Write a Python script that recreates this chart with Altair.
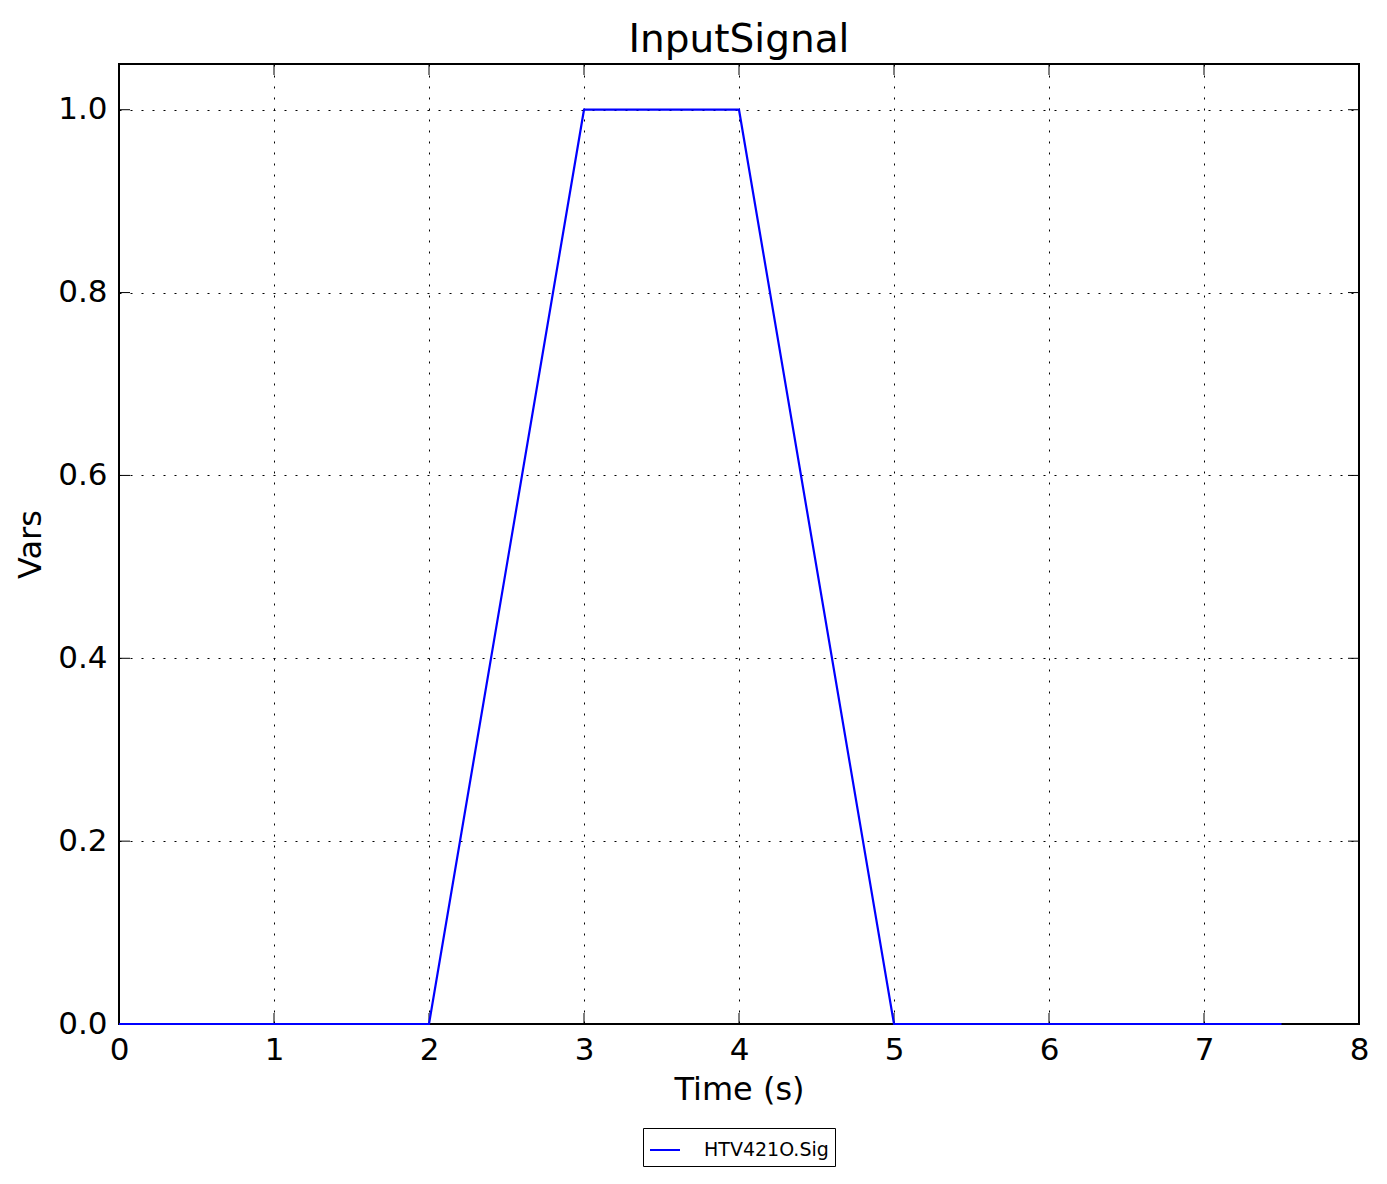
import altair as alt
import pandas as pd

# data
time_s = [0, 2, 3, 4, 5, 7.5]
signal = [0, 0, 1, 1, 0, 0]
series_name = "HTV421O.Sig"
x_ticks = [0, 1, 2, 3, 4, 5, 6, 7, 8]
y_ticks = [0.0, 0.2, 0.4, 0.6, 0.8, 1.0]

W, H = 1240, 960
FONT = "DejaVu Sans"

df = pd.DataFrame({"t": time_s, "v": signal, "s": [series_name] * len(time_s)})
xt = pd.DataFrame({"t": x_ticks})
yt = pd.DataFrame({"v": y_ticks})

xscale = alt.Scale(domain=[0, 8], nice=False, zero=False)
yscale = alt.Scale(domain=[0, 1.05], nice=False, zero=False)

grid_style = dict(grid=True, gridColor="black", gridDash=[2, 9], gridWidth=1)

line = alt.Chart(df).mark_line(strokeWidth=2.2).encode(
    x=alt.X("t:Q", scale=xscale, title="Time (s)",
            axis=alt.Axis(values=x_ticks, format="d", tickSize=0, labelPadding=11,
                          labelFlush=False, titlePadding=9, **grid_style)),
    y=alt.Y("v:Q", scale=yscale, title="Vars",
            axis=alt.Axis(values=y_ticks, format=".1f", tickSize=0, labelPadding=12,
                          labelFlush=False, titlePadding=10, **grid_style)),
    color=alt.Color("s:N", scale=alt.Scale(domain=[series_name], range=["#0000ff"]),
                    legend=alt.Legend(title=None, orient="none", legendX=524, legendY=1064,
                                      symbolType="stroke", symbolStrokeWidth=2, symbolSize=900,
                                      labelFontSize=19, labelFont=FONT, strokeColor="black",
                                      padding=6, labelOffset=23, fillColor="white")),
)

tick_len = 11
xt_top = alt.Chart(xt).mark_rule(color="black", strokeWidth=1).encode(
    x=alt.X("t:Q", scale=xscale), y=alt.value(0), y2=alt.value(tick_len))
xt_bot = alt.Chart(xt).mark_rule(color="black", strokeWidth=1).encode(
    x=alt.X("t:Q", scale=xscale), y=alt.value(H), y2=alt.value(H - tick_len))
yt_left = alt.Chart(yt).mark_rule(color="black", strokeWidth=1).encode(
    y=alt.Y("v:Q", scale=yscale), x=alt.value(0), x2=alt.value(tick_len))
yt_right = alt.Chart(yt).mark_rule(color="black", strokeWidth=1).encode(
    y=alt.Y("v:Q", scale=yscale), x=alt.value(W), x2=alt.value(W - tick_len))

chart = alt.layer(xt_top, xt_bot, yt_left, yt_right, line).properties(
    width=W, height=H,
    title=alt.Title("InputSignal", fontSize=39, font=FONT, fontWeight="normal", offset=4),
    autosize=alt.AutoSizeParams(type="none"),
    padding={"left": 111, "top": 56, "right": 20, "bottom": 150},
    background="white",
).configure_view(stroke="black", strokeWidth=2).configure_axis(
    labelFont=FONT, titleFont=FONT, labelFontSize=31, titleFontSize=32,
    labelColor="black", titleColor="black", titleFontWeight="normal", domain=False,
)

chart.save("out.html", embed_options={"renderer": "svg", "actions": False})
